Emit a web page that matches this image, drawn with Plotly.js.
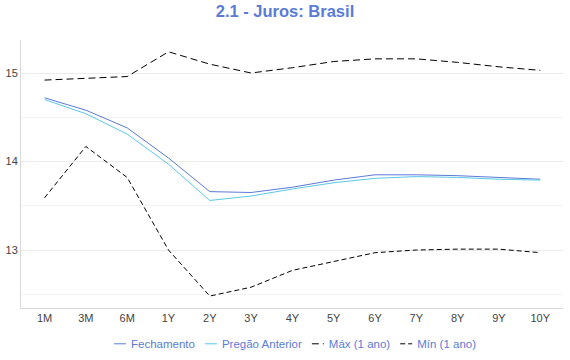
<!DOCTYPE html>
<html>
<head>
<meta charset="utf-8">
<script src="https://cdn.plot.ly/plotly-3.0.1.min.js"></script>
<style>html,body{margin:0;padding:0;background:#fff;}#chart{width:570px;height:360px;}</style>
</head>
<body>
<div id="chart"></div>
<script>
const vertices = ["1M","3M","6M","1Y","2Y","3Y","4Y","5Y","6Y","7Y","8Y","9Y","10Y"];
const fechamento = [14.72,14.58,14.38,14.04,13.66,13.65,13.71,13.79,13.85,13.85,13.84,13.82,13.80];
const pregaoAnterior = [14.70,14.54,14.31,13.97,13.56,13.61,13.69,13.76,13.81,13.83,13.82,13.80,13.79];
const max1ano = [14.92,14.94,14.96,15.24,15.10,15.00,15.06,15.13,15.16,15.16,15.12,15.07,15.03];
const min1ano = [13.59,14.17,13.82,13.00,12.48,12.58,12.77,12.87,12.97,13.00,13.01,13.01,12.97];
const yTicks = [13,14,15];

const traces = [
  {x: vertices, y: fechamento, name: "Fechamento", type: "scatter", mode: "lines",
   line: {color: "#5b7bd5", width: 1}},
  {x: vertices, y: pregaoAnterior, name: "Pregão Anterior", type: "scatter", mode: "lines",
   line: {color: "#5bc8e6", width: 1}},
  {x: vertices, y: max1ano, name: "Máx (1 ano)", type: "scatter", mode: "lines",
   line: {color: "#000000", width: 1, dash: "7px,4px"}},
  {x: vertices, y: min1ano, name: "Mín (1 ano)", type: "scatter", mode: "lines",
   line: {color: "#000000", width: 1, dash: "5px,3px"}}
];

const layout = {
  width: 570, height: 360,
  margin: {l: 21, r: 7, t: 40, b: 52},
  paper_bgcolor: "#fff", plot_bgcolor: "#fff",
  font: {family: "Liberation Sans, Arial, sans-serif", size: 11, color: "#444"},
  title: {text: "<b>2.1 - Juros: Brasil</b>", x: 0.5, xanchor: "center", y: 0.985, yanchor: "top",
          font: {size: 16.5, color: "#5b7bd5", family: "Liberation Sans, Arial, sans-serif"}},
  xaxis: {type: "category", range: [-0.57, 12.55], showgrid: false, zeroline: false,
          showline: true, linecolor: "#d9d9d9", linewidth: 1, ticks: "", ticklabelstandoff: 0,
          tickfont: {size: 11, color: "#444"}, fixedrange: true, automargin: false},
  yaxis: {range: [12.345, 15.373], tickvals: yTicks, ticktext: yTicks.map(String),
          showgrid: true, gridcolor: "#ebebeb", gridwidth: 1, zeroline: false,
          showline: true, linecolor: "#d9d9d9", linewidth: 1, ticks: "",
          minor: {dtick: 0.5, tick0: 12.5, showgrid: true, gridcolor: "#f3f3f3", gridwidth: 1},
          tickfont: {size: 11, color: "#444"}, automargin: false},
  showlegend: true,
  legend: {orientation: "h", x: 0.5, xanchor: "center", xref: "container",
           y: 0.045, yanchor: "middle", yref: "container",
           font: {size: 11.5, color: "#5b7bd5"}, itemwidth: 30, tracegroupgap: 0}
};

const gd = document.getElementById("chart");
Plotly.newPlot(gd, traces, layout, {displayModeBar: false, staticPlot: true}).then(function () {
  // compact legend entries: short line symbols, tighter spacing, centred under the plot
  const legendG = gd.querySelector(".legend");
  if (!legendG) return;
  const items = Array.from(legendG.querySelectorAll(".traces"));
  const sym = 12, gap1 = 5, gap2 = 10;
  const widths = items.map(it => it.querySelector(".legendtext").getComputedTextLength());
  const total = widths.reduce((a, w) => a + sym + gap1 + w, 0) + gap2 * (items.length - 1);
  const re = /translate\(\s*([-\d.e]+)[\s,]+([-\d.e]+)\s*\)/;
  const m = re.exec(legendG.getAttribute("transform") || "");
  const lx = m ? parseFloat(m[1]) : 0;
  let x = 295 - total / 2 - lx;
  items.forEach((it, i) => {
    const t = re.exec(it.getAttribute("transform") || "");
    const ty = t ? parseFloat(t[2]) : 0;
    it.setAttribute("transform", "translate(" + x + "," + ty + ")");
    it.querySelectorAll(".legendlines path").forEach(p => p.setAttribute("d", "M0,0h" + sym));
    it.querySelector(".legendtext").setAttribute("x", sym + gap1);
    x += sym + gap1 + widths[i] + gap2;
  });
});
</script>
</body>
</html>
